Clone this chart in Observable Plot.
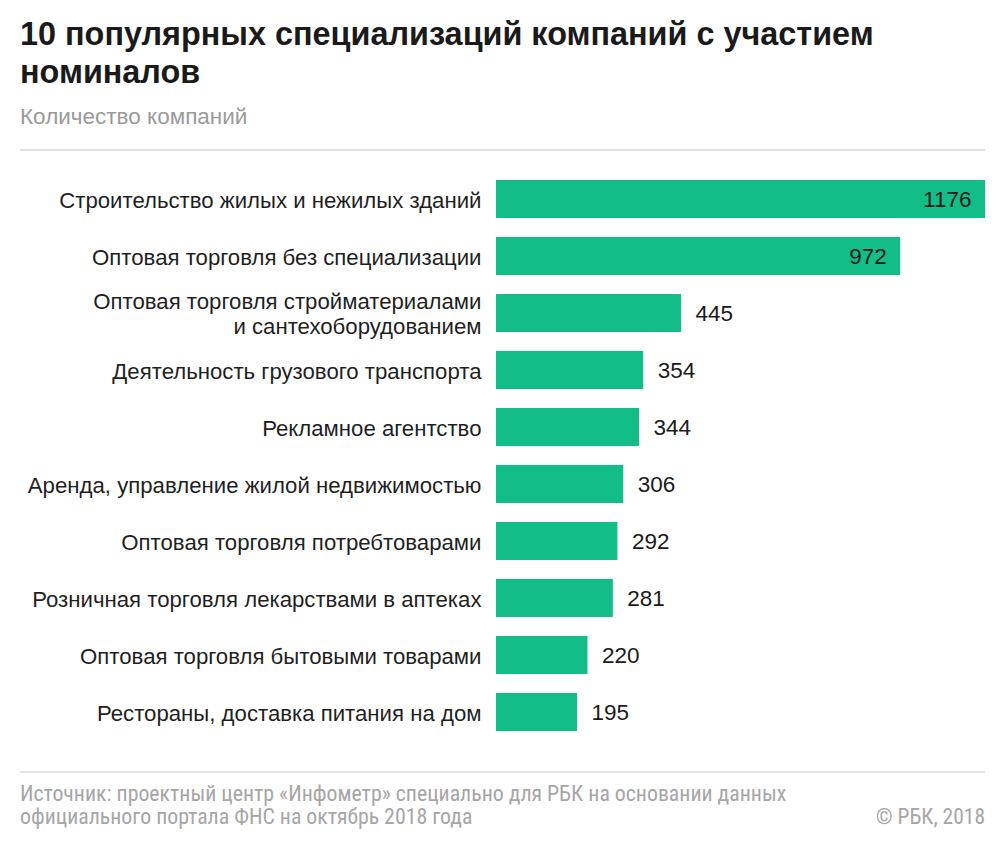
<!DOCTYPE html>
<html><head><meta charset="utf-8">
<script src="https://cdn.jsdelivr.net/npm/d3@7"></script>
<script src="https://cdn.jsdelivr.net/npm/@observablehq/plot@0.6"></script>
<style>
body{margin:0;background:#fff;font-family:"Liberation Sans",Arial,sans-serif;width:1005px;height:842px;overflow:hidden}
#wrap{position:relative;width:1005px;height:842px}
.title{position:absolute;left:20px;top:15px;font-size:32.4px;font-weight:bold;line-height:38px;color:#1a1a1a;width:970px}
.sub{position:absolute;left:20px;top:104px;font-size:22.5px;line-height:26px;color:#9a9a9a}
.hr{position:absolute;left:20px;width:965px;height:2px;background:#e3e3e3}
#chart{position:absolute;left:0;top:158px}
.foot{position:absolute;left:20px;top:782px;font-family:"Liberation Sans Narrow","Roboto Condensed","DejaVu Sans Condensed",sans-serif;font-size:21.8px;line-height:23px;color:#a6a6a6;white-space:nowrap}
.copy{position:absolute;right:20px;top:805px;font-family:"Liberation Sans Narrow","Roboto Condensed","DejaVu Sans Condensed",sans-serif;font-size:21.5px;line-height:23px;color:#a6a6a6}
</style></head>
<body><div id="wrap">
<div class="title">10 популярных специализаций компаний с участием<br>номиналов</div>
<div class="sub">Количество компаний</div>
<div class="hr" style="top:149px"></div>
<div id="chart"></div>
<div class="hr" style="top:771px"></div>
<div class="foot">Источник: проектный центр «Инфометр» специально для РБК на основании данных<br>официального портала ФНС на октябрь 2018 года</div>
<div class="copy">© РБК, 2018</div>
</div>
<script>
const categories = [
  "Строительство жилых и нежилых зданий",
  "Оптовая торговля без специализации",
  "Оптовая торговля стройматериалами\nи сантехоборудованием",
  "Деятельность грузового транспорта",
  "Рекламное агентство",
  "Аренда, управление жилой недвижимостью",
  "Оптовая торговля потребтоварами",
  "Розничная торговля лекарствами в аптеках",
  "Оптовая торговля бытовыми товарами",
  "Рестораны, доставка питания на дом"
];
const values = [1176, 972, 445, 354, 344, 306, 292, 281, 220, 195];
const data = categories.map((c, i) => ({name: c, value: values[i]}));
const inside = d => d.value > 900;

const chart = Plot.plot({
  width: 1005,
  height: 600,
  marginLeft: 496,
  marginRight: 20,
  marginTop: 0,
  marginBottom: 0,
  style: {fontFamily: "Liberation Sans, Arial, sans-serif", background: "transparent"},
  x: {domain: [0, 1176], axis: null},
  y: {domain: categories, range: [10.3, 584.7], paddingInner: 0.33, paddingOuter: 0.165, label: null},
  marks: [
    Plot.barX(data, {x: "value", y: "name", fill: "#13bd87"}),
    Plot.axisY({tickSize: 0, tickPadding: 15, fontSize: 22.2, lineHeight: 1.13, fill: "#1f1f1f", label: null}),
    Plot.text(data.filter(inside), {x: "value", y: "name", text: d => String(d.value), textAnchor: "end", dx: -14, fontSize: 22.5, fill: "#1a1a1a"}),
    Plot.text(data.filter(d => !inside(d)), {x: "value", y: "name", text: d => String(d.value), textAnchor: "start", dx: 14, fontSize: 22.5, fill: "#1a1a1a"})
  ]
});
document.getElementById("chart").appendChild(chart);
</script>
</body></html>
